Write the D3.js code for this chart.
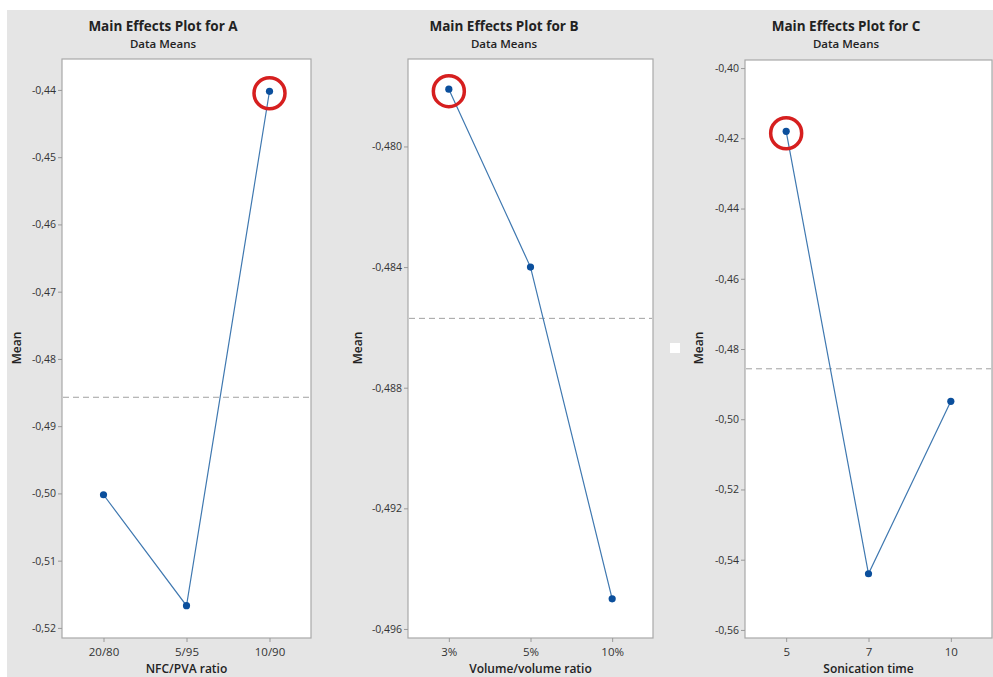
<!DOCTYPE html>
<html><head><meta charset="utf-8">
<script src="https://cdn.jsdelivr.net/npm/d3@7"></script>
<style>
html,body{margin:0;padding:0;background:#fff;}
svg{display:block;font-family:"Open Sans","Noto Sans",sans-serif;}
</style></head>
<body><svg id="c" width="993" height="677"></svg>
<script>
// ---- data ----
const titles = ["Main Effects Plot for A","Main Effects Plot for B","Main Effects Plot for C"];
const subtitle = "Data Means";
const xTitles = ["NFC/PVA ratio","Volume/volume ratio","Sonication time"];
const catsA = ["20/80","5/95","10/90"];
const catsB = ["3%","5%","10%"];
const catsC = ["5","7","10"];
const meansA = [-0.5002,-0.5167,-0.4402];
const meansB = [-0.4781,-0.4840,-0.4950];
const meansC = [-0.4180,-0.5440,-0.4949];
const ticksA = [-0.44,-0.45,-0.46,-0.47,-0.48,-0.49,-0.50,-0.51,-0.52];
const ticksB = [-0.480,-0.484,-0.488,-0.492,-0.496];
const ticksC = [-0.40,-0.42,-0.44,-0.46,-0.48,-0.50,-0.52,-0.54,-0.56];
const domainA = [-0.5215,-0.4354];
const domainB = [-0.4963,-0.4771];
const domainC = [-0.5623,-0.3977];
const decimals = [2,3,2];
const highlighted = [2,0,0];

// ---- layout ----
const panels = [
  {cats:catsA, means:meansA, ticks:ticksA, domain:domainA, left:62, right:311, top:59, bottom:638, titleX:163, meanX:17},
  {cats:catsB, means:meansB, ticks:ticksB, domain:domainB, left:408, right:653, top:59, bottom:638, titleX:504, meanX:358},
  {cats:catsC, means:meansC, ticks:ticksC, domain:domainC, left:745, right:992, top:60, bottom:638, titleX:846, meanX:699}
];

const svg = d3.select("#c");
svg.append("rect").attr("x",7).attr("y",10).attr("width",986).attr("height",667).attr("fill","#e5e5e5");

panels.forEach((p,i)=>{
  const g = svg.append("g");
  const x = d3.scalePoint().domain(p.cats).range([p.left,p.right]).padding(0.5);
  const y = d3.scaleLinear().domain(p.domain).range([p.bottom,p.top]);
  const fmt = v => d3.format("."+decimals[i]+"f")(v).replace("−","-").replace(".",",");

  g.append("text").attr("x",p.titleX).attr("y",31).attr("text-anchor","middle")
    .attr("font-size",13.5).attr("font-weight","bold").attr("fill","#222").text(titles[i]);
  g.append("text").attr("x",p.titleX).attr("y",48).attr("text-anchor","middle")
    .attr("font-size",11.5).attr("font-weight","600").attr("fill","#222").text(subtitle);

  g.append("rect").attr("x",p.left).attr("y",p.top).attr("width",p.right-p.left).attr("height",p.bottom-p.top)
    .attr("fill","#fff").attr("stroke","#a8a8a8").attr("stroke-width",1.2);

  const ya = g.append("g").attr("transform",`translate(${p.left},0)`)
    .call(d3.axisLeft(y).tickValues(p.ticks).tickFormat(fmt).tickSize(4).tickPadding(2));
  ya.select(".domain").remove();
  ya.selectAll("line").attr("stroke","#999");
  ya.selectAll("text").attr("font-size",10.5).attr("fill","#333").attr("font-family","'Open Sans',sans-serif");

  const xa = g.append("g").attr("transform",`translate(0,${p.bottom})`)
    .call(d3.axisBottom(x).tickSize(4).tickPadding(6));
  xa.select(".domain").remove();
  xa.selectAll("line").attr("stroke","#999");
  xa.selectAll("text").attr("font-size",11.5).attr("fill","#333").attr("font-family","'Open Sans',sans-serif");

  g.append("text").attr("x",(p.left+p.right)/2).attr("y",673).attr("text-anchor","middle")
    .attr("font-size",12).attr("font-weight","600").attr("fill","#222").text(xTitles[i]);
  g.append("text").attr("transform",`translate(${p.meanX+4},348) rotate(-90)`).attr("text-anchor","middle")
    .attr("font-size",12).attr("font-weight","600").attr("fill","#222").text("Mean");

  const gm = d3.mean(p.means);
  g.append("line").attr("x1",p.left+1).attr("x2",p.right-1).attr("y1",y(gm)).attr("y2",y(gm))
    .attr("stroke","#a0a0a0").attr("stroke-width",1).attr("stroke-dasharray","6,4");

  const pts = p.cats.map((c,k)=>[x(c),y(p.means[k])]);
  g.append("path").attr("d",d3.line()(pts)).attr("fill","none").attr("stroke","#3f78b0").attr("stroke-width",1.2);
  g.selectAll("circle.pt").data(pts).enter().append("circle").attr("class","pt")
    .attr("cx",d=>d[0]).attr("cy",d=>d[1]).attr("r",3.6).attr("fill","#0b4f9c");

  const h = pts[highlighted[i]];
  g.append("circle").attr("cx",h[0]).attr("cy",h[1]+2).attr("r",15.5)
    .attr("fill","none").attr("stroke","#d61f1f").attr("stroke-width",3.5);
});

svg.append("rect").attr("x",670).attr("y",343).attr("width",10).attr("height",10).attr("fill","#fff");
</script></body></html>
